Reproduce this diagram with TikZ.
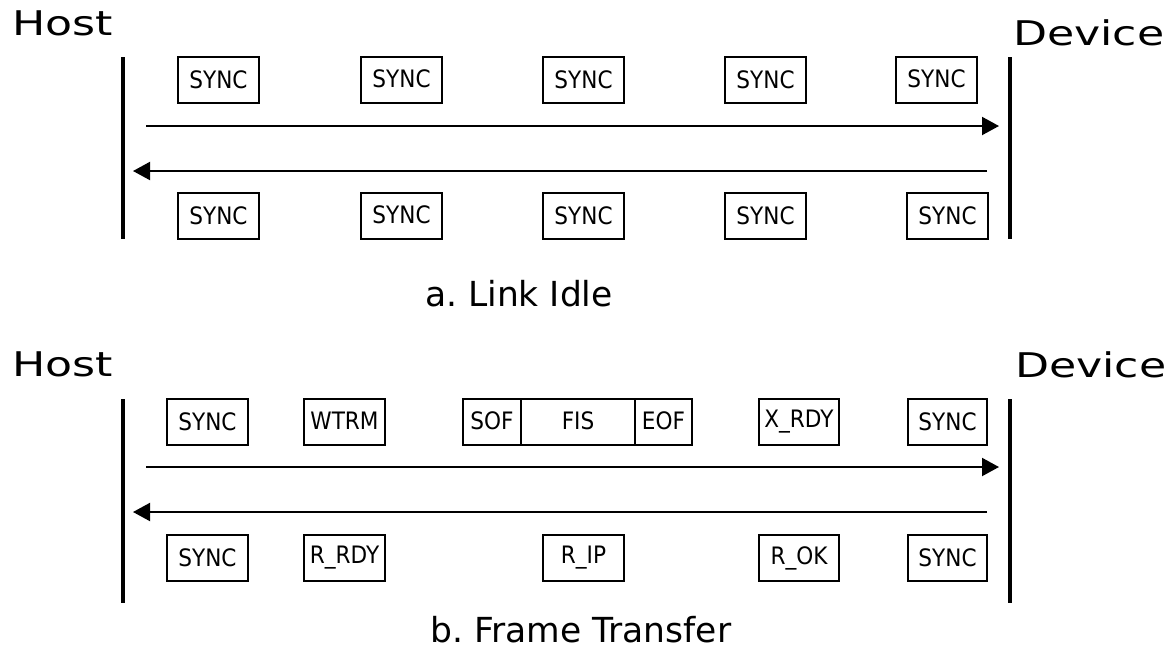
\documentclass[tikz,border=0pt]{standalone}
\usepackage{fontspec}
\usepackage{graphicx}
\setmainfont{DejaVu Sans}
\usetikzlibrary{arrows.meta}
\frenchspacing
\newcommand{\narrow}[1]{\scalebox{0.9}[1]{#1}}
\newcommand{\wide}[1]{\scalebox{1.3}[1]{#1}}
\tikzset{
  frame/.style={draw, line width=1.7pt, inner sep=0pt, minimum height=46pt,
                minimum width=81pt, font=\fontsize{24}{26}\selectfont},
  lifeline/.style={line width=4pt},
  msg/.style={line width=2pt, -{Triangle[length=17pt,width=18pt]}},
  side/.style={anchor=base west, inner sep=0pt, font=\fontsize{34}{36}\selectfont},
  caption/.style={anchor=base west, inner sep=0pt, font=\fontsize{34.5}{36}\selectfont},
}
\begin{document}
\begin{tikzpicture}[x=1pt,y=-1pt]
\useasboundingbox (0,0) rectangle (1176,649);

% ---------- a. Link Idle ----------
\node[side] (hostA) at (12,35) {\wide{Host}};
\node[side] (devA) at (1013,45) {\wide{Device}};
\coordinate (hA1) at (122.5,57);  \coordinate (hA2) at (122.5,239);
\coordinate (dA1) at (1010,57);   \coordinate (dA2) at (1010,239);
\draw[lifeline] (hA1) -- (hA2);
\draw[lifeline] (dA1) -- (dA2);
\coordinate (txA0) at (146,126);  \coordinate (txA1) at (999,126);
\coordinate (rxA0) at (987,171);  \coordinate (rxA1) at (133,171);
\draw[msg] (txA0) -- (txA1);
\draw[msg] (rxA0) -- (rxA1);

\node[frame] (au1) at (218.5,80) {\raisebox{1pt}{\narrow{SYNC}}};
\node[frame] (au2) at (401.5,80) {\raisebox{3pt}{\narrow{SYNC}}};
\node[frame] (au3) at (583.5,80) {\raisebox{-1pt}{\narrow{SYNC}}};
\node[frame] (au4) at (765.5,80) {\raisebox{-2pt}{\narrow{SYNC}}};
\node[frame] (au5) at (936.5,80) {\raisebox{3pt}{\narrow{SYNC}}};

\node[frame] (al1) at (218.5,216) {\raisebox{1pt}{\narrow{SYNC}}};
\node[frame] (al2) at (401.5,216) {\raisebox{3pt}{\narrow{SYNC}}};
\node[frame] (al3) at (583.5,216) {\raisebox{-1pt}{\narrow{SYNC}}};
\node[frame] (al4) at (765.5,216) {\raisebox{-1pt}{\narrow{SYNC}}};
\node[frame] (al5) at (947.5,216) {\raisebox{-1pt}{\narrow{SYNC}}};

\node[caption] (capA) at (425,306) {a. Link Idle};

% ---------- b. Frame Transfer ----------
\node[side] (hostB) at (12,376) {\wide{Host}};
\node[side] (devB) at (1015,377) {\wide{Device}};
\coordinate (hB1) at (122.5,399); \coordinate (hB2) at (122.5,603);
\coordinate (dB1) at (1010,399);  \coordinate (dB2) at (1010,603);
\draw[lifeline] (hB1) -- (hB2);
\draw[lifeline] (dB1) -- (dB2);
\coordinate (txB0) at (146,467);  \coordinate (txB1) at (999,467);
\coordinate (rxB0) at (987,512);  \coordinate (rxB1) at (133,512);
\draw[msg] (txB0) -- (txB1);
\draw[msg] (rxB0) -- (rxB1);

\node[frame] (bu1) at (207.5,422) {\raisebox{-2pt}{\narrow{SYNC}}};
\node[frame] (bu2) at (344.5,422) {\raisebox{3pt}{\narrow{WTRM}}};
\node[frame, minimum width=58pt] (sof) at (492,422) {\raisebox{2pt}{\narrow{SOF}}};
\node[frame, minimum width=114pt] (fis) at (578,422) {\raisebox{2pt}{\narrow{FIS}}};
\node[frame, minimum width=57pt] (eof) at (663.5,422) {\raisebox{2pt}{\narrow{EOF}}};
\node[frame, minimum width=80pt] (xrdy) at (799,422) {\raisebox{1pt}{\narrow{X\_RDY}}};
\node[frame, minimum width=79pt] (bu5) at (947.5,422) {\raisebox{1pt}{\narrow{SYNC}}};

\node[frame] (bl1) at (207.5,558) {\raisebox{-2pt}{\narrow{SYNC}}};
\node[frame] (rrdy) at (344.5,558) {\raisebox{3pt}{\narrow{R\_RDY}}};
\node[frame] (rip) at (583.5,558) {\narrow{R\_IP}};
\node[frame, minimum width=80pt] (rok) at (799,558) {\narrow{R\_OK}};
\node[frame, minimum width=79pt] (bl5) at (947.5,558) {\narrow{SYNC}};

\node[caption] (capB) at (430,642) {b. Frame Transfer};
\end{tikzpicture}
\end{document}
